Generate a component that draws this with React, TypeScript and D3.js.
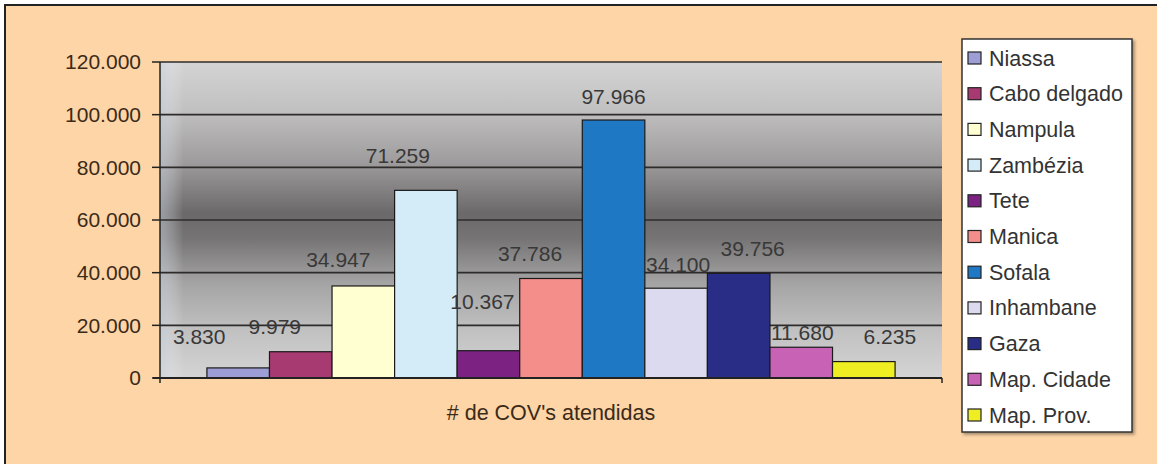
import React from "react";
import * as d3 from "d3";

const provinces = ["Niassa", "Cabo delgado", "Nampula", "Zambézia", "Tete", "Manica", "Sofala", "Inhambane", "Gaza", "Map. Cidade", "Map. Prov."];
const values = [3830, 9979, 34947, 71259, 10367, 37786, 97966, 34100, 39756, 11680, 6235];
const colors = ["#9e9ed6", "#a83a72", "#ffffd2", "#d4ecf8", "#7c2282", "#f48e8a", "#1f78c4", "#dcdaee", "#2a2d86", "#c862b4", "#eeee22"];
const yTicks = [0, 20000, 40000, 60000, 80000, 100000, 120000];
const categoryLabel = "# de COV's atendidas";

// manual label nudges (as dragged in the original)
const labelDx = [-39, -26, -25, -28, -6, -21, 0, 2, 14, 1, 26];
const labelDy = [-31, -25, -26, -35, -49, -25, -23, -24, -25, -15, -25];

const W = 1157, H = 464;
const plot = { left: 160, right: 942, top: 62, bottom: 378 };

const fmt = (v: number) => d3.format(",")(v).replace(/,/g, ".");

export default function App() {
  const y = d3.scaleLinear().domain([0, 120000]).range([plot.bottom, plot.top]);
  const outer = d3.scaleBand().domain(["cat"]).range([plot.left, plot.right]).paddingInner(0).paddingOuter(0);
  const cw = outer.bandwidth();
  const barW = cw / (provinces.length + 1.5);
  const x = d3.scaleBand().domain(provinces).range([plot.left + barW * 0.75, plot.right - barW * 0.75]).padding(0);

  const legendX = 962, legendY = 39, legendW = 170, legendH = 393;
  const legStep = 35.7;

  return (
    <svg width={W} height={H} style={{ position: "absolute", left: 0, top: 0 }} fontFamily="Arial, 'Liberation Sans', sans-serif">
      <defs>
        <linearGradient id="pg" x1="0" y1="0" x2="0" y2="1">
          <stop offset="0" stopColor="#d4d4d4" />
          <stop offset="0.15" stopColor="#c2c1c1" />
          <stop offset="0.32" stopColor="#9d9b9b" />
          <stop offset="0.48" stopColor="#6a6868" />
          <stop offset="0.56" stopColor="#767474" />
          <stop offset="0.7" stopColor="#a5a4a4" />
          <stop offset="0.85" stopColor="#c1c1c1" />
          <stop offset="1" stopColor="#d4d4d4" />
        </linearGradient>
        <linearGradient id="pgh" x1="0" y1="0" x2="1" y2="0">
          <stop offset="0" stopColor="#c8d4e4" stopOpacity="0.5" />
          <stop offset="0.03" stopColor="#ffffff" stopOpacity="0" />
          <stop offset="1" stopColor="#ffffff" stopOpacity="0" />
        </linearGradient>
        <filter id="sh" x="-5%" y="-5%" width="115%" height="115%">
          <feDropShadow dx="2" dy="2" stdDeviation="1.5" floodColor="#000" floodOpacity="0.35" />
        </filter>
      </defs>
      <rect x={0} y={0} width={W} height={H} fill="#ffffff" />
      <rect x={5} y={5} width={W + 10} height={H + 10} fill="#fdd5a7" stroke="#222" strokeWidth={2} />

      {/* plot area */}
      <rect x={plot.left} y={plot.top} width={plot.right - plot.left} height={plot.bottom - plot.top} fill="url(#pg)" />
      <rect x={plot.left} y={plot.top} width={plot.right - plot.left} height={plot.bottom - plot.top} fill="url(#pgh)" />

      {/* gridlines */}
      {yTicks.map((t) => (
        <line key={"g" + t} x1={plot.left} x2={plot.right} y1={y(t)} y2={y(t)} stroke="#2e2b2b" strokeWidth={1.6} />
      ))}

      {/* bars */}
      {provinces.map((p, i) => (
        <rect key={p} x={x(p)!} y={y(values[i])} width={x.bandwidth()} height={y(0) - y(values[i])} fill={colors[i]} stroke="#1a1a1a" strokeWidth={1.2} />
      ))}

      {/* data labels */}
      {provinces.map((p, i) => (
        <text key={"l" + p} x={x(p)! + x.bandwidth() / 2 + labelDx[i]} y={y(values[i]) + labelDy[i]} dy="0.35em" textAnchor="middle" fontSize={21} fill="#383838">
          {fmt(values[i])}
        </text>
      ))}

      {/* axes */}
      <line x1={plot.left} x2={plot.left} y1={plot.top} y2={plot.bottom + 5} stroke="#222" strokeWidth={1.5} />
      <line x1={plot.left - 7} x2={plot.right} y1={plot.bottom} y2={plot.bottom} stroke="#222" strokeWidth={2} />
      <line x1={plot.right} x2={plot.right} y1={plot.bottom} y2={plot.bottom + 5} stroke="#222" strokeWidth={1.5} />
      {yTicks.map((t) => (
        <g key={"t" + t}>
          <line x1={plot.left - 8} x2={plot.left} y1={y(t)} y2={y(t)} stroke="#222" strokeWidth={1.5} />
          <text x={plot.left - 19} y={y(t)} dy="0.35em" textAnchor="end" fontSize={21} fill="#3c2a18">
            {fmt(t)}
          </text>
        </g>
      ))}
      <text x={outer("cat")! + cw / 2} y={412} dy="0.35em" textAnchor="middle" fontSize={21.5} fill="#3c2a18">
        {categoryLabel}
      </text>

      {/* legend */}
      <rect x={legendX} y={legendY} width={legendW} height={legendH} fill="#ffffff" stroke="#333" strokeWidth={1.5} filter="url(#sh)" />
      {provinces.map((p, i) => (
        <g key={"lg" + p} transform={`translate(${legendX + 6},${legendY + 19 + i * legStep})`}>
          <rect x={0} y={-6} width={13} height={12} fill={colors[i]} stroke="#222" strokeWidth={1.2} />
          <text x={21} y={0} dy="0.35em" fontSize={21.5} fill="#333">
            {p}
          </text>
        </g>
      ))}
    </svg>
  );
}
